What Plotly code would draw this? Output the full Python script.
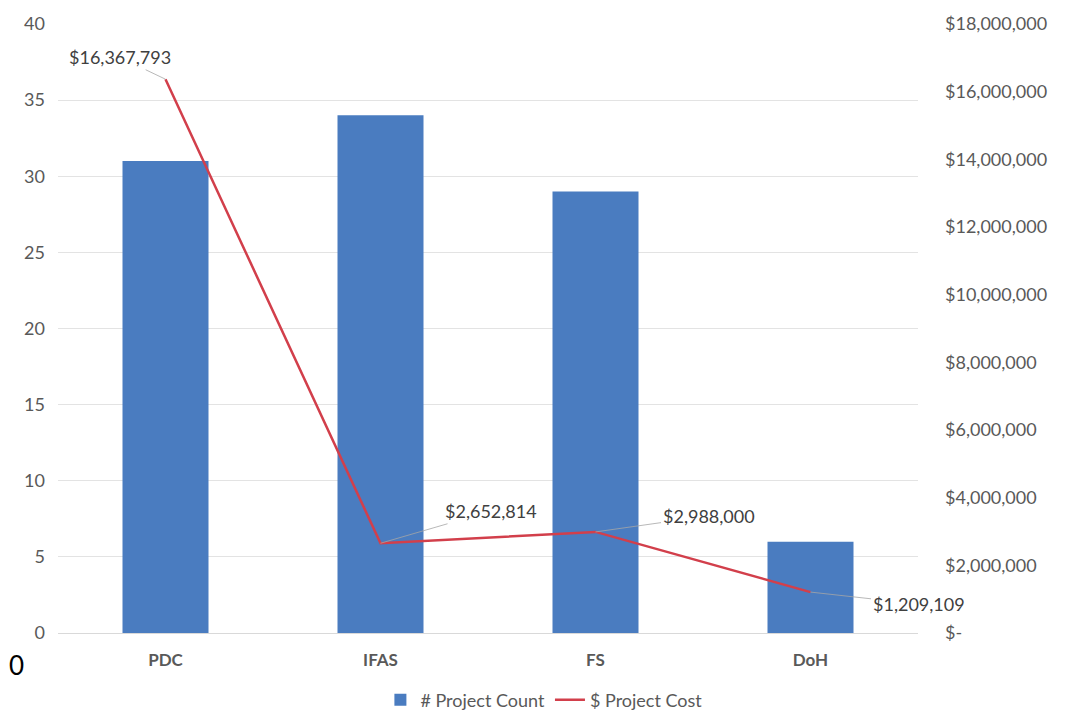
import plotly.graph_objects as go

categories = ["PDC", "IFAS", "FS", "DoH"]
project_count = [31, 34, 29, 6]
project_cost = [16367793, 2652814, 2988000, 1209109]
cost_labels = ["$16,367,793", "$2,652,814", "$2,988,000", "$1,209,109"]
left_ticks = [0, 5, 10, 15, 20, 25, 30, 35, 40]
right_ticks = [0, 2000000, 4000000, 6000000, 8000000, 10000000, 12000000, 14000000, 16000000, 18000000]
right_tick_text = ["$-", "$2,000,000", "$4,000,000", "$6,000,000", "$8,000,000", "$10,000,000",
                   "$12,000,000", "$14,000,000", "$16,000,000", "$18,000,000"]
label_offsets = [(-46, -22), (110, -32), (113, -16), (108, 12)]

FONT = "Lato"
GREY = "#595959"

fig = go.Figure()
fig.add_trace(go.Bar(x=categories, y=project_count, name="# Project Count",
                     marker=dict(color="#4a7cc0", line=dict(width=0)), width=0.4))
fig.add_trace(go.Scatter(x=categories, y=project_cost, name="$ Project Cost", yaxis="y2",
                         mode="lines", line=dict(color="#d23f4b", width=2.5)))

for c, v, t, (ax, ay) in zip(categories, project_cost, cost_labels, label_offsets):
    fig.add_annotation(x=c, y=v, yref="y2", text=t, showarrow=True, arrowhead=0,
                       arrowwidth=0.8, arrowcolor="#a6a6a6", ax=ax, ay=ay,
                       font=dict(family=FONT, size=18, color="#404040"))

fig.add_annotation(x=-0.0581, y=-0.0525, xref="paper", yref="paper", text="0", showarrow=False,
                   xanchor="left", yanchor="middle", borderpad=0,
                   font=dict(family=FONT, size=26, color="black"))

fig.update_layout(
    width=1081, height=704,
    margin=dict(l=50, r=171, t=16, b=79, autoexpand=False),
    paper_bgcolor="white", plot_bgcolor="white",
    font=dict(family=FONT, size=18, color=GREY),
    bargap=0.6,
    xaxis=dict(range=[-0.5, 3.5], showgrid=False, showline=True, linecolor="#d9d9d9", linewidth=1,
               tickfont=dict(family=FONT, size=17, color=GREY, weight="bold"),
               ticks="", ticklabelstandoff=12, automargin=False),
    yaxis=dict(range=[0, 40], tickvals=left_ticks, showgrid=True, gridcolor="#e3e3e3",
               gridwidth=1, zeroline=False, showline=False, ticks="", automargin=False,
               tickfont=dict(family=FONT, size=18, color=GREY), ticklabelstandoff=12),
    yaxis2=dict(range=[0, 18000000], overlaying="y", side="right", tickvals=right_ticks,
                ticktext=right_tick_text, showgrid=False, zeroline=False, showline=False,
                ticks="", automargin=False,
                tickfont=dict(family=FONT, size=18, color=GREY), ticklabelstandoff=26),
    legend=dict(orientation="h", x=0.565, xanchor="center", y=-0.11, yanchor="middle",
                font=dict(family=FONT, size=18, color=GREY), traceorder="normal"),
    showlegend=True,
)

fig.write_html("out.html")
